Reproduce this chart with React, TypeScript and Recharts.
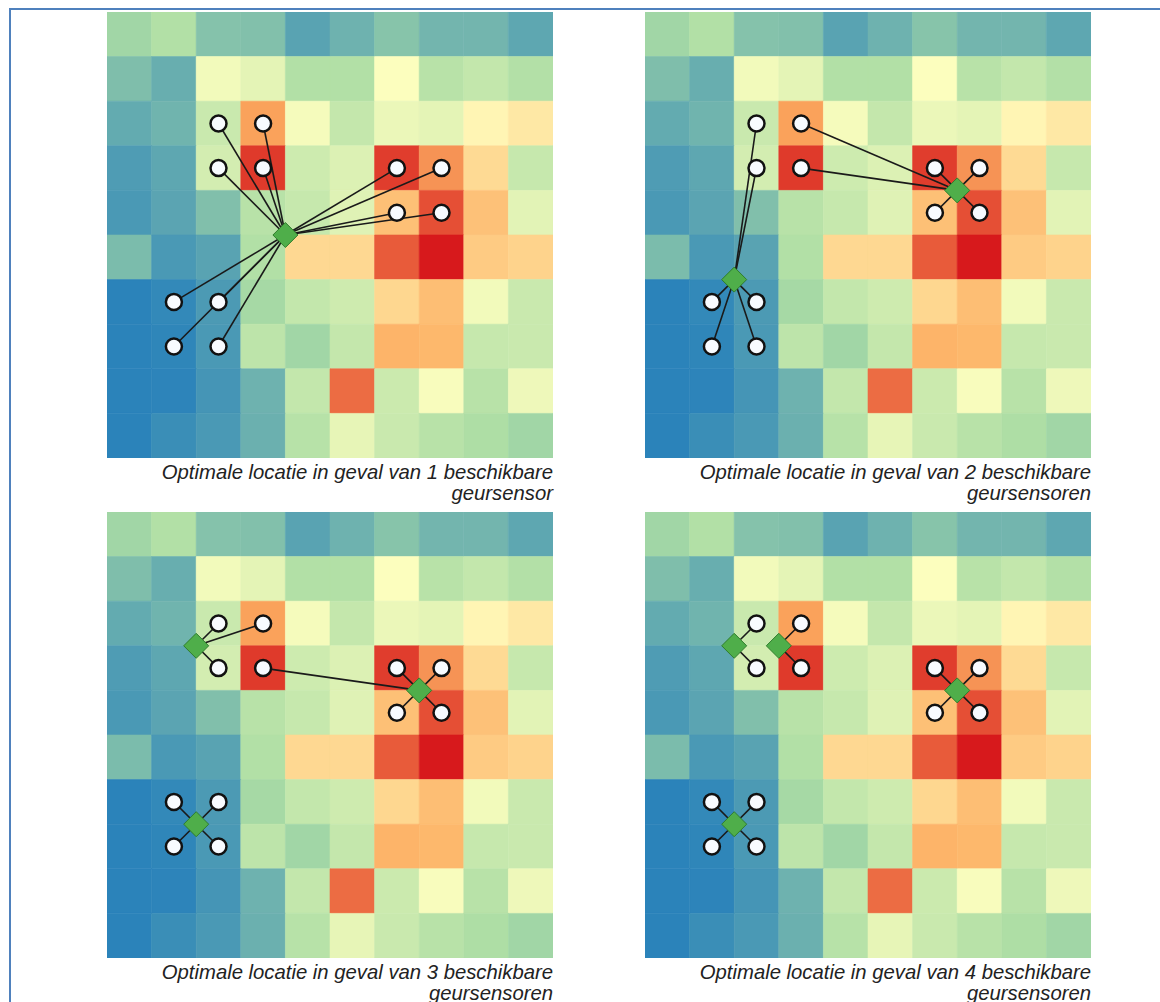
import { ScatterChart, Scatter, XAxis, YAxis, ReferenceArea, ReferenceLine } from "recharts"

// Odour level per grid cell on a 0..100 scale; row 0 is the top row, column 0 the left column.
const ODOUR_GRID: number[][] = [
	[23, 27, 17.5, 17, 9, 13, 18, 14, 14, 10],
	[16.5, 12, 46, 42, 27, 27, 49, 29, 32, 27.5],
	[11, 13.5, 34, 77, 47, 32.5, 44, 42, 53, 57],
	[7, 10, 37, 94.5, 35, 39.5, 94, 79.5, 61.5, 33],
	[6, 9.3, 16.7, 29, 33, 40.5, 69.5, 91, 69, 41.5],
	[15.7, 6, 9, 27, 62, 62, 89, 100, 66, 63.5],
	[0, 1.6, 6.5, 24, 32, 35.5, 62.5, 70, 46, 34],
	[0, 0.8, 6, 30.5, 23, 32.5, 73, 72, 33, 34],
	[0, 0.3, 5, 13, 32, 86, 34.5, 48, 29, 45],
	[0, 3, 6, 12.5, 28.5, 43, 34, 29, 26, 23],
]

// Spectral colour ramp, low (blue) to high (red)
const RAMP = ["#2b83ba", "#abdda4", "#ffffbf", "#fdae61", "#d7191c"]

// Candidate measuring points (cell centres), grouped in three 2x2 clusters
const CANDIDATES = [
	{ x: 2.5, y: 2.5 },
	{ x: 3.5, y: 2.5 },
	{ x: 2.5, y: 3.5 },
	{ x: 3.5, y: 3.5 },
	{ x: 6.5, y: 3.5 },
	{ x: 7.5, y: 3.5 },
	{ x: 6.5, y: 4.5 },
	{ x: 7.5, y: 4.5 },
	{ x: 1.5, y: 6.5 },
	{ x: 2.5, y: 6.5 },
	{ x: 1.5, y: 7.5 },
	{ x: 2.5, y: 7.5 },
]

// Sensor placements for 1..4 available sensors
const SENSORS_1 = [{ x: 4, y: 5 }]
const SENSORS_2 = [
	{ x: 7, y: 4 },
	{ x: 2, y: 6 },
]
const SENSORS_3 = [
	{ x: 2, y: 3 },
	{ x: 7, y: 4 },
	{ x: 2, y: 7 },
]
const SENSORS_4 = [
	{ x: 2, y: 3 },
	{ x: 3, y: 3 },
	{ x: 7, y: 4 },
	{ x: 2, y: 7 },
]

// Index of the sensor serving each candidate point
const ASSIGN_1 = [0, 0, 0, 0, 0, 0, 0, 0, 0, 0, 0, 0]
const ASSIGN_2 = [1, 0, 1, 0, 0, 0, 0, 0, 1, 1, 1, 1]
const ASSIGN_3 = [0, 0, 0, 1, 1, 1, 1, 1, 2, 2, 2, 2]
const ASSIGN_4 = [0, 1, 0, 1, 2, 2, 2, 2, 3, 3, 3, 3]

const CAPTIONS = [
	["Optimale locatie in geval van 1 beschikbare", "geursensor"],
	["Optimale locatie in geval van 2 beschikbare", "geursensoren"],
	["Optimale locatie in geval van 3 beschikbare", "geursensoren"],
	["Optimale locatie in geval van 4 beschikbare", "geursensoren"],
]

const PANEL_SIZE = 446

function hexToRgb(hex: string) {
	const n = parseInt(hex.slice(1), 16)
	return [(n >> 16) & 255, (n >> 8) & 255, n & 255]
}

function rampColor(value: number) {
	const v = Math.max(0, Math.min(100, value)) / 100
	const seg = Math.min(RAMP.length - 2, Math.floor(v * (RAMP.length - 1)))
	const t = v * (RAMP.length - 1) - seg
	const a = hexToRgb(RAMP[seg])
	const b = hexToRgb(RAMP[seg + 1])
	const c = a.map((ch, i) => Math.round(ch + (b[i] - ch) * t))
	return `rgb(${c[0]},${c[1]},${c[2]})`
}

const renderCandidate = (props: any) => (
	<circle cx={props.cx} cy={props.cy} r={8} fill="#f8fbff" stroke="#111" strokeWidth={2.5} />
)

const renderSensor = (props: any) => {
	const { cx, cy } = props
	const h = 12.5
	return (
		<polygon
			points={`${cx},${cy - h} ${cx + h},${cy} ${cx},${cy + h} ${cx - h},${cy}`}
			fill="#4fae4a"
			stroke="#2f7d2c"
			strokeWidth={1}
		/>
	)
}

function SensorPanel({ sensors, assign }: { sensors: { x: number; y: number }[]; assign: number[] }) {
	return (
		<ScatterChart width={PANEL_SIZE} height={PANEL_SIZE} margin={{ top: 0, right: 0, bottom: 0, left: 0 }}>
			<XAxis type="number" dataKey="x" domain={[0, 10]} hide />
			<YAxis type="number" dataKey="y" domain={[0, 10]} reversed hide />
			{ODOUR_GRID.flatMap((row, r) =>
				row.map((value, c) => {
					const color = rampColor(value)
					return (
						<ReferenceArea
							key={`cell-${r}-${c}`}
							x1={c}
							x2={c + 1}
							y1={r}
							y2={r + 1}
							fill={color}
							fillOpacity={1}
							stroke={color}
							strokeWidth={0.6}
						/>
					)
				}),
			)}
			{CANDIDATES.map((pt, i) => {
				const s = sensors[assign[i]]
				return (
					<ReferenceLine
						key={`link-${i}`}
						segment={[
							{ x: s.x, y: s.y },
							{ x: pt.x, y: pt.y },
						]}
						stroke="#1a1a1a"
						strokeWidth={1.6}
					/>
				)
			})}
			<Scatter data={CANDIDATES} shape={renderCandidate} isAnimationActive={false} />
			<Scatter data={sensors} shape={renderSensor} isAnimationActive={false} />
		</ScatterChart>
	)
}

const PANELS = [
	{ left: 107, top: 12, sensors: SENSORS_1, assign: ASSIGN_1 },
	{ left: 645, top: 12, sensors: SENSORS_2, assign: ASSIGN_2 },
	{ left: 107, top: 512, sensors: SENSORS_3, assign: ASSIGN_3 },
	{ left: 645, top: 512, sensors: SENSORS_4, assign: ASSIGN_4 },
]

export default function App() {
	return (
		<div
			style={{
				position: "absolute",
				left: 0,
				top: 0,
				width: 1160,
				height: 1002,
				background: "#fff",
				overflow: "hidden",
				fontFamily: '"Liberation Sans", Arial, sans-serif',
			}}
		>
			<div
				style={{
					position: "absolute",
					left: 9,
					top: 8,
					width: 1200,
					height: 1100,
					borderLeft: "2px solid #4f81bd",
					borderTop: "2px solid #4f81bd",
				}}
			/>
			{PANELS.map((p, i) => (
				<div key={i}>
					<div style={{ position: "absolute", left: p.left, top: p.top }}>
						<SensorPanel sensors={p.sensors} assign={p.assign} />
					</div>
					<div
						style={{
							position: "absolute",
							left: p.left - 20,
							top: p.top + PANEL_SIZE + 4,
							width: PANEL_SIZE + 20,
							textAlign: "right",
							fontStyle: "italic",
							fontSize: 20.3,
							lineHeight: "21px",
							color: "#222",
						}}
					>
						<div>{CAPTIONS[i][0]}</div>
						<div>{CAPTIONS[i][1]}</div>
					</div>
				</div>
			))}
		</div>
	)
}
